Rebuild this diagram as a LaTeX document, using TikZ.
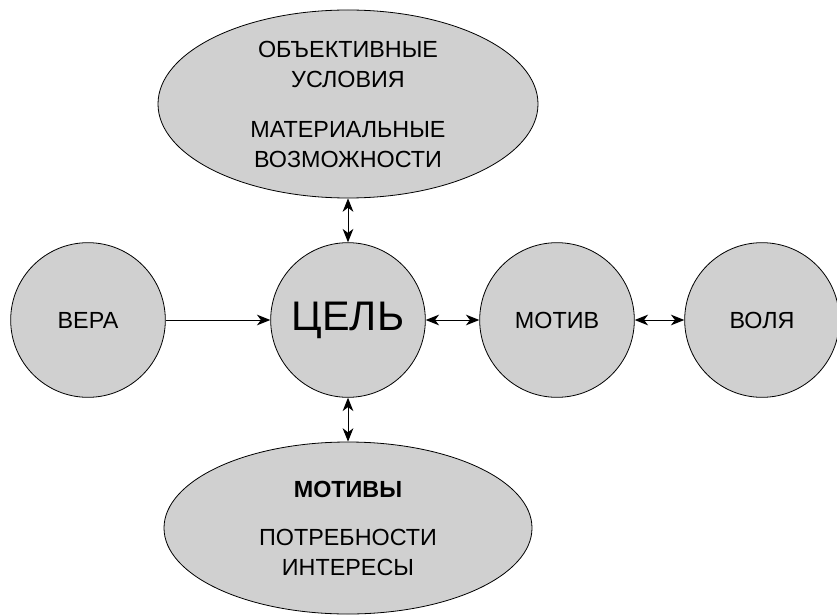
\documentclass[tikz,border=0pt]{standalone}
\usepackage{fontspec}
\setmainfont{Liberation Sans}
\usepackage{tikz}
\usetikzlibrary{arrows.meta,shapes.geometric,positioning}
\definecolor{bubblegray}{HTML}{D0D0D0}
\tikzset{
  bubble/.style={circle,draw=black,line width=0.6pt,fill=bubblegray,minimum size=116pt,inner sep=0pt},
  oval/.style={ellipse,draw=black,line width=0.6pt,fill=bubblegray,align=center,inner sep=0pt},
  link/.style={line width=0.75pt,-{Stealth[length=10pt,width=8pt,inset=3pt]}},
  duplex/.style={line width=0.75pt,{Stealth[length=10pt,width=8pt,inset=3pt]}-{Stealth[length=10pt,width=8pt,inset=3pt]}}
}

\begin{document}
\begin{tikzpicture}[x=0.75pt,y=0.75pt,font=\fontsize{17.5}{22.5}\selectfont]
\useasboundingbox (0,0) rectangle (837,615);
\node[bubble] (vera) at (88,295) {ВЕРА};
\node[bubble,font=\fontsize{31}{36}\selectfont] (cel) at (348,295) {ЦЕЛЬ};
\node[bubble] (motiv) at (557,295) {МОТИВ};
\node[bubble] (volya) at (762,295) {ВОЛЯ};
\node[oval,minimum width=285pt,minimum height=141pt] (uslovia) at (348,511)
  {ОБЪЕКТИВНЫЕ\\УСЛОВИЯ\\[15pt]МАТЕРИАЛЬНЫЕ\\ВОЗМОЖНОСТИ};
\node[oval,minimum width=276pt,minimum height=129pt] (motivy) at (348,87)
  {\textbf{МОТИВЫ}\\[13.5pt]ПОТРЕБНОСТИ\\ИНТЕРЕСЫ};
\draw[link] (vera) -- (cel);
\draw[duplex] (cel) -- (motiv);
\draw[duplex] (motiv) -- (volya);
\draw[duplex] (uslovia) -- (cel);
\draw[duplex] (cel) -- (motivy);
\end{tikzpicture}
\end{document}
